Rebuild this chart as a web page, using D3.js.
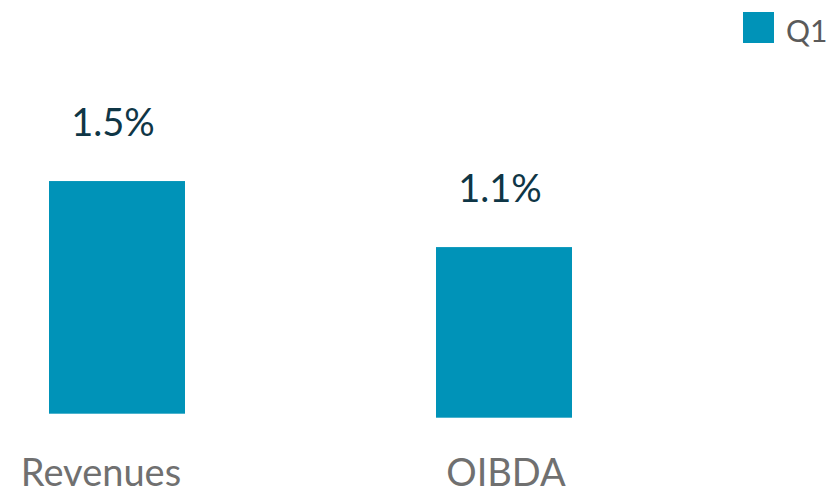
<!DOCTYPE html>
<html>
<head>
<meta charset="utf-8">
<script src="https://cdn.jsdelivr.net/npm/d3@7"></script>
<style>
  html, body { margin: 0; padding: 0; background: #ffffff; }
  svg { display: block; }
</style>
</head>
<body>
<div id="chart"></div>
<script>
const categories = ["Revenues", "OIBDA"];
const seriesName = "Q1";
const q1Values = [1.5, 1.1];
const valueLabels = ["1.5%", "1.1%"];

const W = 834, H = 494;
const barColor = "#0093b8";
const font = "Lato, 'Open Sans', sans-serif";

const svg = d3.select("#chart").append("svg")
  .attr("width", W).attr("height", H);

const x = d3.scaleBand()
  .domain(categories)
  .range([49, 572])
  .paddingInner(1 - 136 / 387)
  .paddingOuter(0);

const labelX = d3.scalePoint()
  .domain(categories)
  .range([101, 506]);

// each category sits on its own small baseline (as in the source slide)
const baselines = [413.7, 417.7];
const h = d3.scaleLinear().domain([0, 1]).range([0, 155.1]);

const g = svg.append("g");
categories.forEach((c, i) => {
  const v = q1Values[i];
  const top = baselines[i] - h(v);
  g.append("rect")
    .attr("x", x(c))
    .attr("y", top)
    .attr("width", x.bandwidth())
    .attr("height", h(v))
    .attr("fill", barColor);
  g.append("text")
    .attr("x", x(c) + x.bandwidth() / 2 - 4)
    .attr("y", top - 45)
    .attr("text-anchor", "middle")
    .attr("font-family", font)
    .attr("font-size", 38)
    .attr("fill", "#0f3646")
    .text(valueLabels[i]);
  g.append("text")
    .attr("x", labelX(c))
    .attr("y", 486)
    .attr("text-anchor", "middle")
    .attr("font-family", font)
    .attr("font-size", 38)
    .attr("fill", "#707070")
    .text(c);
});

// legend
const lg = svg.append("g");
lg.append("rect")
  .attr("x", 743).attr("y", 12)
  .attr("width", 31).attr("height", 31)
  .attr("fill", barColor);
lg.append("text")
  .attr("x", 786).attr("y", 42)
  .attr("font-family", font)
  .attr("font-size", 30)
  .attr("fill", "#5a5a5a")
  .text(seriesName);
</script>
</body>
</html>
